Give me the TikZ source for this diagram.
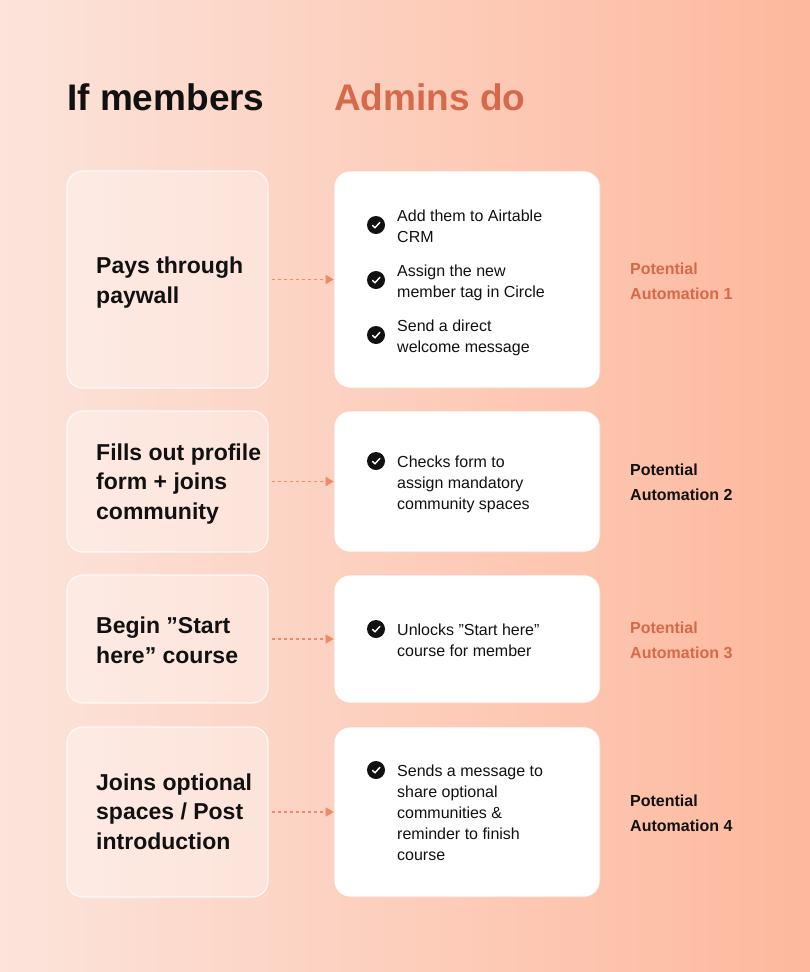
\documentclass[tikz,border=0pt]{standalone}
\usepackage{fontspec}
\setmainfont{Liberation Sans}
\usetikzlibrary{arrows.meta, positioning}
\definecolor{peachL}{HTML}{FCE4DB}
\definecolor{peachR}{HTML}{FDB89D}
\definecolor{accent}{HTML}{D6694A}
\definecolor{arrowc}{HTML}{F08A66}
\definecolor{ink}{HTML}{111111}

\begin{document}
\begin{tikzpicture}[
    x=1pt, y=-1pt,
    member/.style={rectangle, draw=white, line width=1.2pt, rounded corners=16pt, fill=white, fill opacity=0.35, draw opacity=0.8},
    admin/.style={rectangle, draw=peachR!70!white, line width=0.6pt, rounded corners=16pt, fill=white},
    lefttext/.style={anchor=base west, align=left, font=\fontsize{23}{29.5}\selectfont\bfseries, text=ink, inner sep=0pt},
    item/.style={anchor=base west, align=left, font=\fontsize{16}{21}\selectfont, text=ink, inner sep=0pt},
    potential/.style={anchor=base west, align=left, font=\fontsize{16}{25}\selectfont\bfseries, inner sep=0pt},
    title/.style={anchor=base west, font=\fontsize{37}{40}\selectfont\bfseries, inner sep=0pt},
    flow/.style={-{Triangle[length=8pt, width=9pt]}, arrowc, dash pattern=on 3pt off 3pt, line width=1.6pt},
    check/.pic={\fill[ink] (0,0) circle (9);
        \draw[white, line width=1.4pt, line cap=round, line join=round] (-3.5,0.3) -- (-1,2.8) -- (3.8,-2.6);}
]

% Background
\shade[left color=peachL, right color=peachR] (0,0) rectangle (810,972);
\useasboundingbox (0,0) rectangle (810,972);

% Titles
\node[title, text=ink] (tmem) at (67,110) {If members};
\node[title, text=accent] (tadm) at (334,110) {Admins do};

% Row boxes
\node[member, minimum width=201, minimum height=217] (m1) at (167.5,279.5) {};
\node[member, minimum width=201, minimum height=141] (m2) at (167.5,481.5) {};
\node[member, minimum width=201, minimum height=128] (m3) at (167.5,639) {};
\node[member, minimum width=201, minimum height=170] (m4) at (167.5,812) {};
\node[admin, minimum width=266, minimum height=217] (a1) at (467,279.5) {};
\node[admin, minimum width=266, minimum height=141] (a2) at (467,481.5) {};
\node[admin, minimum width=266, minimum height=128] (a3) at (467,639) {};
\node[admin, minimum width=266, minimum height=170] (a4) at (467,812) {};

% Member actions
\node[lefttext] (t1) at (96,303) {Pays through\\paywall};
\node[lefttext] (t2) at (96,519) {Fills out profile\\form + joins\\community};
\node[lefttext] (t3) at (96,663) {Begin ”Start\\here” course};
\node[lefttext] (t4) at (96,849) {Joins optional\\spaces / Post\\introduction};

% Admin actions
\pic at (376,225) {check};
\node[item] (i11) at (397,242) {Add them to Airtable\\CRM};
\pic at (376,280) {check};
\node[item] (i12) at (397,297) {Assign the new\\member tag in Circle};
\pic at (376,335) {check};
\node[item] (i13) at (397,352) {Send a direct\\welcome message};
\pic at (376,461) {check};
\node[item] (i21) at (397,509) {Checks form to\\assign mandatory\\community spaces};
\pic at (376,629) {check};
\node[item] (i31) at (397,656) {Unlocks ”Start here”\\course for member};
\pic at (376,770) {check};
\node[item] (i41) at (397,860) {Sends a message to\\share optional\\communities \&\\reminder to finish\\course};

% Arrows
\foreach \r in {1,...,4}
  \draw[flow] ([xshift=3pt]m\r.east) -- (a\r.west);

% Automation labels
\node[potential, text=accent] (p1) at (630,299) {Potential\\Automation 1};
\node[potential, text=ink] (p2) at (630,500) {Potential\\Automation 2};
\node[potential, text=accent] (p3) at (630,658) {Potential\\Automation 3};
\node[potential, text=ink] (p4) at (630,831) {Potential\\Automation 4};

\end{tikzpicture}
\end{document}
